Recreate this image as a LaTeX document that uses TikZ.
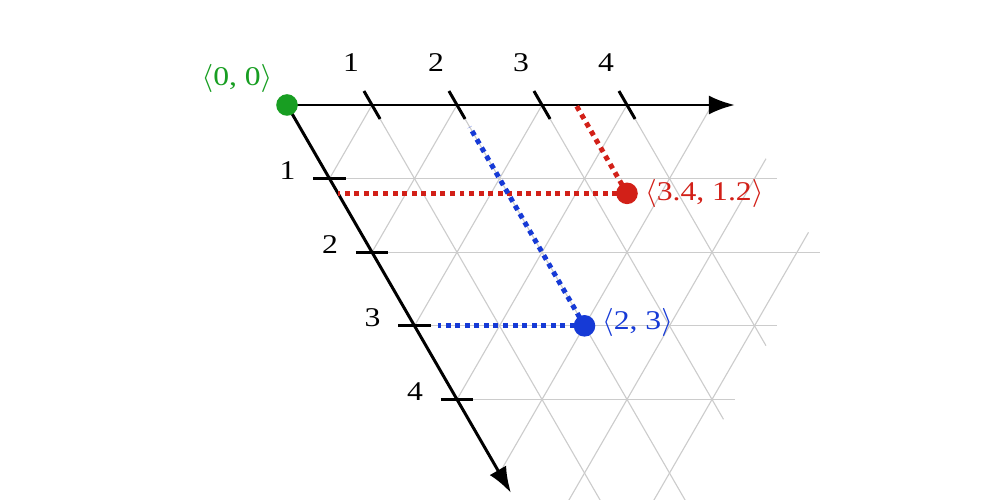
\documentclass[tikz,border=0pt]{standalone}
\usepackage{fontspec}
\setmainfont{Liberation Serif}[FakeStretch=1.17]
\usetikzlibrary{arrows.meta,calc}
\definecolor{ptgreen}{RGB}{24,158,34}
\definecolor{ptred}{RGB}{210,32,24}
\definecolor{ptblue}{RGB}{22,58,214}
\definecolor{gridgray}{RGB}{204,204,204}
\begin{document}
\begin{tikzpicture}[x={(0.85cm,0cm)}, y={(0.425cm,-0.73612cm)},
  gridline/.style={draw=gridgray, line width=0.32pt},
  axisline/.style={draw=black, line width=0.85pt, -{Latex[length=0.26cm,width=0.19cm]}},
  tickmark/.style={draw=black, line width=0.85pt},
  ticklabel/.style={inner sep=0pt, font=\fontsize{7.7}{9.2}\selectfont},
  dotline/.style={line width=1.42pt, dash pattern=on 1.42pt off 1.3pt},
  ptdot/.style={circle, inner sep=0pt, minimum size=0.216cm},
  ptlabel/.style={inner sep=0pt, font=\fontsize{7.7}{9.2}\selectfont}
]
\useasboundingbox (-2.87cm,-3.95cm) rectangle (7.13cm,1.05cm);

% triangular grid
\foreach \b/\e in {1/5.27,2/5.27,3/4.27,4/3.27} \draw[gridline] (0,\b) -- (\e,\b);
\foreach \a/\e in {1/5.37,2/5.37,3/4.27,4/3.27} \draw[gridline] (\a,0) -- (\a,\e);
\foreach \k in {1,...,5} \draw[gridline] (0,\k) -- (\k,0);
\draw[gridline] (0.63,5.37) -- (5.27,0.73);
\draw[gridline] (1.63,5.37) -- (5.27,1.73);

% axes
\coordinate (O) at (0,0);
\coordinate (xend) at (5.27,0);
\coordinate (yend) at (0,5.27);
\draw[axisline] (O) -- (xend);
\draw[axisline] (O) -- (yend);

% ticks and tick labels
\foreach \i in {1,...,4} {
  \draw[tickmark] (\i,-0.19) -- (\i,0.19);
  \node[ticklabel] (tx\i) at ($(\i,0)+(-0.21cm,0.42cm)$) {\i};
  \draw[tickmark] (-0.19,\i) -- (0.19,\i);
  \node[ticklabel] (ty\i) at ($(0,\i)+(-0.42cm,0.08cm)$) {\i};
}

% dotted projections
\coordinate (R) at (3.4,1.2);
\coordinate (Rx) at (3.4,0);
\coordinate (Ry) at (0,1.2);
\draw[dotline, ptred] (R) -- (Rx);
\draw[dotline, ptred] (R) -- (Ry);
\coordinate (B) at (2,3);
\coordinate (Bx) at (2,0.3);
\coordinate (By) at (0.28,3);
\draw[dotline, ptblue] (B) -- (Bx);
\draw[dotline, ptblue] (B) -- (By);

% points
\node[ptdot, fill=ptgreen] (dO) at (O) {};
\node[ptdot, fill=ptred] (dR) at (R) {};
\node[ptdot, fill=ptblue] (dB) at (B) {};

% point labels
\node[ptlabel, text=ptgreen] (lO) at ($(O)+(-0.5cm,0.27cm)$) {$\langle$0, 0$\rangle$};
\node[ptlabel, text=ptred, anchor=west] (lR) at ($(R)+(0.175cm,0cm)$) {$\langle$3.4, 1.2$\rangle$};
\node[ptlabel, text=ptblue, anchor=west] (lB) at ($(B)+(0.17cm,0.03cm)$) {$\langle$2, 3$\rangle$};
\end{tikzpicture}
\end{document}
